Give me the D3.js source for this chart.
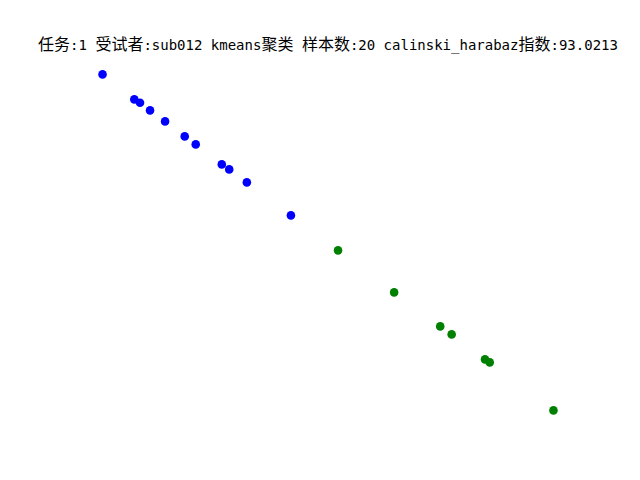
<!DOCTYPE html>
<html><head><meta charset="utf-8">
<script src="https://cdn.jsdelivr.net/npm/d3@7"></script>
<style>body{margin:0;background:#fff}</style>
</head><body>
<svg id="chart" width="640" height="480"></svg>
<script>
// cluster 0 (blue)
const cluster0X = [103.3,135.0,140.7,150.7,165.7,185.3,196.3,222.3,229.7,247.3,291.3];
const cluster0Y = [405.7,380.7,377.3,369.7,358.7,343.7,335.7,315.7,310.7,297.7,264.7];
// cluster 1 (green)
const cluster1X = [338.3,394.3,440.3,451.7,485.0,489.7,553.3];
const cluster1Y = [229.7,187.7,153.7,145.7,120.7,117.7,69.7];
const clusterColors = ["#0000ff", "#008000"];
const titleParts = [
  ["任务", "cjk"], [":1 ", "lat"], ["受试者", "cjk"], [":sub012 kmeans", "lat"],
  ["聚类", "cjk"], [" ", "lat"], ["样本数", "cjk"], [":20 calinski_harabaz", "lat"],
  ["指数", "cjk"], [":93.0213", "lat"]
];

const W = 640, H = 480;
const svg = d3.select("#chart");
svg.append("rect").attr("width", W).attr("height", H).attr("fill", "#fff");

const allX = cluster0X.concat(cluster1X), allY = cluster0Y.concat(cluster1Y);
function padded(ext) { const d = (ext[1] - ext[0]) * 0.05; return [ext[0] - d, ext[1] + d]; }
const x = d3.scaleLinear().domain(padded(d3.extent(allX))).range([80, 576]);
const y = d3.scaleLinear().domain(padded(d3.extent(allY))).range([427.2, 57.6]);

const pts = [];
cluster0X.forEach((v, i) => pts.push({x: v, y: cluster0Y[i], c: 0}));
cluster1X.forEach((v, i) => pts.push({x: v, y: cluster1Y[i], c: 1}));

svg.append("g").selectAll("circle").data(pts).join("circle")
  .attr("cx", d => x(d.x)).attr("cy", d => y(d.y)).attr("r", 4.3)
  .attr("fill", d => clusterColors[d.c]);

const t = svg.append("text").attr("x", 328).attr("y", 50).attr("text-anchor", "middle")
  .attr("fill", "#000");
titleParts.forEach(([s, k]) => {
  t.append("tspan").text(s)
    .attr("font-family", k === "cjk" ? "'Noto Sans CJK SC'" : "'DejaVu Sans Mono'")
    .attr("font-size", k === "cjk" ? 16 : 14)
    .style("white-space", "pre");
});
t.attr("xml:space", "preserve");
</script>
</body></html>
